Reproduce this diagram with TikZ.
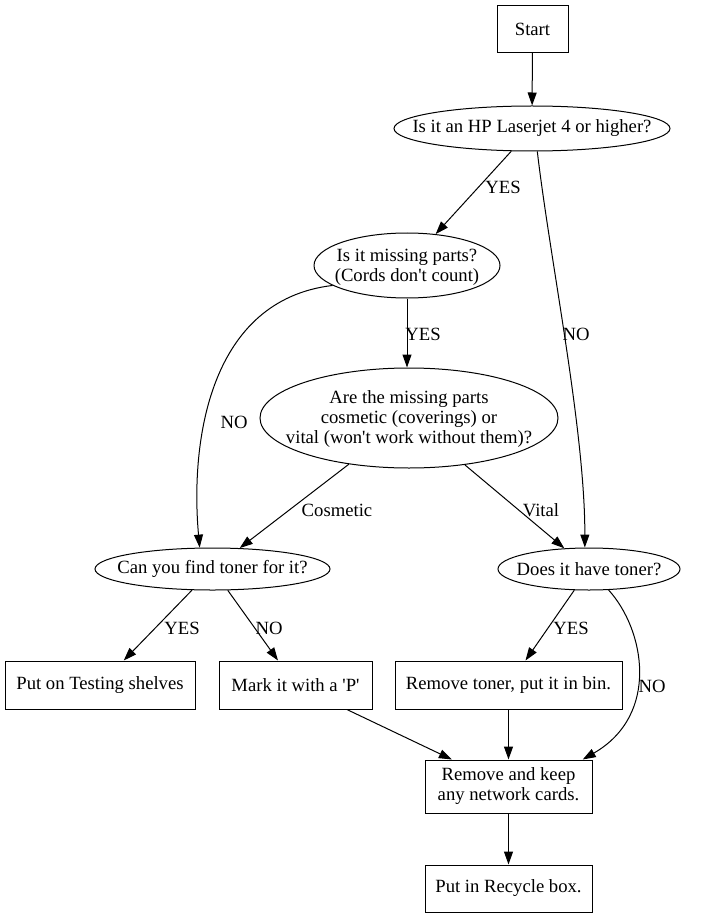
\documentclass[tikz,border=0pt]{standalone}
\usepackage{fontspec}
\setmainfont{Liberation Serif}
\usetikzlibrary{shapes.geometric,arrows.meta}
\begin{document}
\begin{tikzpicture}[x=1pt,y=-1pt,>={Triangle[length=13pt,width=9pt]},line width=1pt,
    font=\fontsize{18.67}{20}\selectfont,
    action/.style={draw,rectangle,inner sep=2pt,align=center},
    decision/.style={draw,ellipse,inner sep=0pt},
    lbl/.style={inner sep=0pt}]
    \useasboundingbox (0,0) rectangle (704,917);
    % questions and actions
    \node[action,minimum width=71pt,minimum height=47pt] (start) at (532.5,29) {Start};
    \node[decision,minimum width=276pt,minimum height=45pt,
        label={center:{Is it an HP Laserjet 4 or higher?}}] (hp) at (532,128.5) {};
    \node[decision,minimum width=186pt,minimum height=65pt,
        label={[align=center,yshift=-2pt]center:{Is it missing parts?\\(Cords don\textquotesingle t count)}}] (missing) at (407,265.5) {};
    \node[decision,minimum width=298pt,minimum height=100pt,
        label={[align=center,yshift=-1pt]center:{Are the missing parts\\cosmetic (coverings) or\\vital (won\textquotesingle t work without them)?}}] (are) at (409,418) {};
    \node[decision,minimum width=235pt,minimum height=42pt,
        label={center:{Can you find toner for it?}}] (can) at (212.5,569) {};
    \node[decision,minimum width=182pt,minimum height=42pt,
        label={center:{Does it have toner?}}] (does) at (589,569) {};
    \node[action,minimum width=190pt,minimum height=48pt] (shelves) at (100,685) {Put on Testing shelves};
    \node[action,minimum width=153pt,minimum height=48pt] (mark) at (295.5,685) {Mark it with a \textquotesingle P\textquotesingle};
    \node[action,minimum width=227pt,minimum height=48pt] (toner) at (508.5,685) {Remove toner, put it in bin.};
    \node[action,minimum width=167pt,minimum height=53pt] (keep) at (508.5,786.5) {Remove and keep\\any network cards.};
    \node[action,minimum width=167pt,minimum height=47pt] (recycle) at (508.5,888.5) {Put in Recycle box.};
    % connectors
    \draw[->] (start) -- (hp);
    \draw[->] (hp) -- (missing) node[lbl] (yeshp) at (503,187) {YES};
    \draw[->] (hp.-77) .. controls (550,260) and (585,430) .. (does.101) node[lbl] (nohp) at (576,334) {NO};
    \draw[->] (missing.south) -- (missing.south |- are.north) node[lbl] (yesmiss) at (423,334) {YES};
    \draw[->] (missing.195) .. controls (210,300) and (190,440) .. (can.121) node[lbl] (nomiss) at (234,422) {NO};
    \draw[->] (are) -- (can) node[lbl] (cosm) at (337,510) {Cosmetic};
    \draw[->] (are) -- (does) node[lbl] (vital) at (541,510) {Vital};
    \draw[->] (can) -- (shelves) node[lbl] (yescan) at (182,628) {YES};
    \draw[->] (can) -- (mark) node[lbl] (nocan) at (269,628) {NO};
    \draw[->] (does) -- (toner) node[lbl] (yesdoes) at (571,628) {YES};
    \draw[->] (does.-47) .. controls (645,630) and (660,715) .. (keep.20) node[lbl] (nodoes) at (652,686) {NO};
    \draw[->] (mark) -- (keep);
    \draw[->] (toner) -- (keep);
    \draw[->] (keep) -- (recycle);
\end{tikzpicture}
\end{document}
